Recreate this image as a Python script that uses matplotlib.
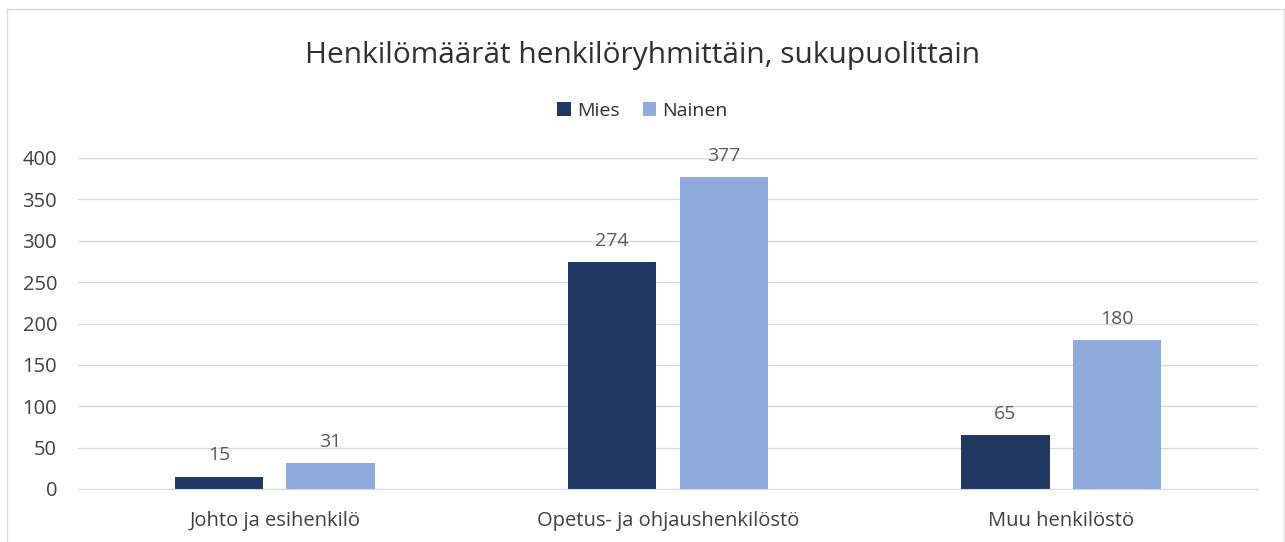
import numpy as np
import matplotlib.pyplot as plt
from matplotlib.patches import Rectangle

plt.rcParams['font.family'] = ['Open Sans', 'DejaVu Sans']

categories = ['Johto ja esihenkilö', 'Opetus- ja ohjaushenkilöstö', 'Muu henkilöstö']
mies = [15, 274, 65]
nainen = [31, 377, 180]

W, H = 1285, 542
fig = plt.figure(figsize=(W / 100, H / 100), dpi=100)
ax = fig.add_axes([78 / W, 53 / H, 1180 / W, 331 / H])

x = np.arange(len(categories))
bw = 0.224
off = 0.142
b1 = ax.bar(x - off, mies, bw, color='#203864', label='Mies')
b2 = ax.bar(x + off, nainen, bw, color='#8FAADC', label='Nainen')

for bars in (b1, b2):
    ax.bar_label(bars, padding=9, color='#595959', fontsize=14)

ax.set_xlim(-0.5, 2.5)
ax.set_ylim(0, 400)
ax.set_yticks(range(0, 401, 50))
ax.set_xticks(x)
ax.set_xticklabels(categories)
ax.tick_params(axis='both', length=0, labelsize=14.5, colors='#404040')
ax.tick_params(axis='y', pad=15)
ax.tick_params(axis='x', pad=16)
ax.yaxis.grid(True, color='#D9D9D9', linewidth=1)
ax.set_axisbelow(True)
for s in ax.spines.values():
    s.set_visible(False)
ax.spines['bottom'].set_visible(True)
ax.spines['bottom'].set_color('#D9D9D9')

fig.text(0.5, 1 - 55 / H, 'Henkilömäärät henkilöryhmittäin, sukupuolittain',
         ha='center', va='center', fontsize=21.5, color='#303030')
fig.legend(loc='center', bbox_to_anchor=(0.5, 1 - 111 / H), ncol=2, frameon=False,
           fontsize=14, handlelength=0.7, handleheight=0.7, handletextpad=0.3,
           columnspacing=1.2, labelcolor='#303030')

fig.add_artist(Rectangle((7 / W, -0.05), (W - 8) / W, 1 - 9 / H + 0.05,
                         transform=fig.transFigure, fill=False,
                         edgecolor='#D9D9D9', linewidth=1))

fig.savefig('out.png', dpi=100)
